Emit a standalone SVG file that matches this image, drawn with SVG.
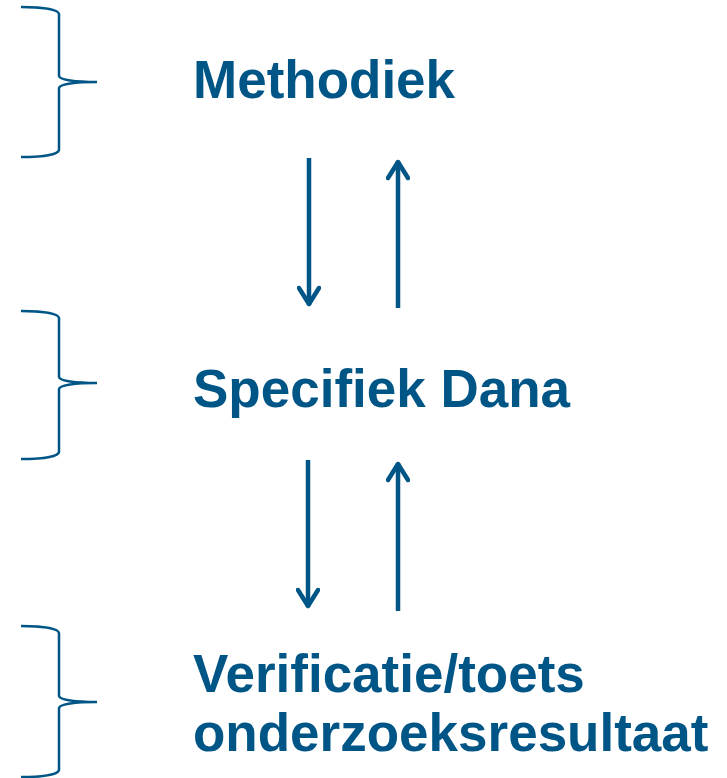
<svg xmlns="http://www.w3.org/2000/svg" width="727" height="778" viewBox="0 0 727 778">
<style>
.t{font-family:"Liberation Sans",Arial,sans-serif;font-weight:bold;font-size:53px;fill:#005587}
.br{fill:none;stroke:#005587;stroke-width:2.5}
.ar{fill:none;stroke:#005587;stroke-width:4.5}
</style>
<defs>
<marker id="ah" viewBox="0 0 24 24" refX="21" refY="12" markerWidth="24" markerHeight="24" markerUnits="userSpaceOnUse" orient="auto">
<path d="M4,2 L20,12 L4,22" fill="none" stroke="#005587" stroke-width="4.5" stroke-linecap="round" stroke-linejoin="round"/>
</marker>
</defs>
<rect width="727" height="778" fill="#ffffff"/>
<g id="brace-methodiek">
<path class="br" d="M21,7 C40,7 58,9 59,14 L59,76 C60,80 75,82 97,82 C75,82 60,84 59,88 L59,150 C58,155 40,157 21,157"/>
</g>
<g id="brace-specifiek">
<path class="br" d="M21,311 C40,311 58,313 59,318 L59,377 C60,381 75,383 97,383 C75,383 60,385 59,389 L59,452 C58,457 40,459 21,459"/>
</g>
<g id="brace-verificatie">
<path class="br" d="M21,626 C40,626 58,628 59,633 L59,696 C60,700 75,702 97,702 C75,702 60,704 59,708 L59,770 C58,775 40,777 21,777"/>
</g>
<g id="node-methodiek"><text class="t" x="193" y="98">Methodiek</text></g>
<g id="node-specifiek"><text class="t" x="193" y="407">Specifiek Dana</text></g>
<g id="node-verificatie"><text class="t" x="193" y="692">Verificatie/toets</text><text class="t" x="193" y="751">onderzoeksresultaat</text></g>
<g id="connectors">
<line class="ar" x1="309" y1="158" x2="309" y2="305" marker-end="url(#ah)"/>
<line class="ar" x1="398" y1="308" x2="398" y2="161" marker-end="url(#ah)"/>
<line class="ar" x1="308" y1="460" x2="308" y2="607" marker-end="url(#ah)"/>
<line class="ar" x1="398" y1="611" x2="398" y2="463" marker-end="url(#ah)"/>
</g>
</svg>
